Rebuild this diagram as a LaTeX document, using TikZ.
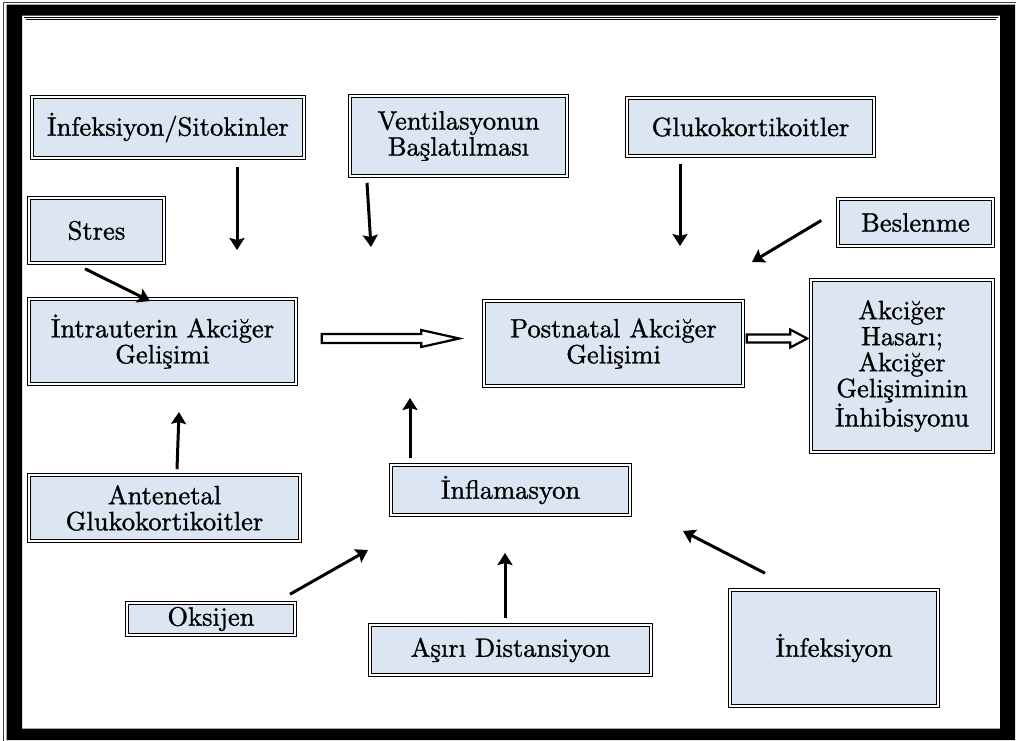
\documentclass[tikz,border=0pt]{standalone}
\usepackage{fontspec}
\usetikzlibrary{arrows.meta,calc}

\newfontfamily\kutufont{lmroman10-regular}[Extension=.otf, RawFeature={embolden=1.1}]
\definecolor{kutumavi}{RGB}{220,230,242}

\tikzset{
  kutu/.style={draw, double, double distance=1.4pt, line width=1.6pt, fill=kutumavi,
    align=center, inner sep=1pt, font=\kutufont\fontsize{26.5}{26}\selectfont},
  ok/.style={line width=3pt, -{Stealth[length=12pt,width=15pt,inset=2pt]}},
  bosok/.style={line width=2.2pt, fill=white, line join=miter}
}

\begin{document}
\begin{tikzpicture}[x=1pt,y=1pt,yscale=-1,xscale=1]
\useasboundingbox (0,0) rectangle (1016,740);

%frame
\draw [line width=1pt, black!75] (3,2) rectangle (1019,744);
\fill [black, even odd rule] (6.5,4.5) rectangle (1015,740) (22,15.5) rectangle (1000,728.5);
\draw [double, double distance=1.2pt, line width=0.8pt] (25,18.5) rectangle (997,726);

%top row
\node [kutu, minimum width=272, minimum height=61] (inf1) at (168,127.5) {İnfeksiyon/Sitokinler};
\node [kutu, minimum width=217, minimum height=80] (vent) at (458.5,136) {Ventilasyonun\\Başlatılması};
\node [kutu, minimum width=247, minimum height=58] (gluk) at (750.5,127) {Glukokortikoitler};
\node [kutu, minimum width=135, minimum height=65] (stres) at (96.5,230.5) {Stres};
\node [kutu, minimum width=155, minimum height=47] (besl) at (915.5,222.5) {Beslenme};

%middle row
\node [kutu, minimum width=267, minimum height=85] (intra) at (162.5,341.5) {İntrauterin Akciğer\\Gelişimi};
\node [kutu, minimum width=259, minimum height=85] (post) at (613.5,343.5) {Postnatal Akciğer\\Gelişimi};
\node [kutu, minimum width=182, minimum height=172] (hasar) at (902,366) {Akciğer\\Hasarı;\\Akciğer\\Gelişiminin\\İnhibisyonu};

%bottom rows
\node [kutu, minimum width=271, minimum height=66] (ante) at (164.5,508) {Antenetal\\Glukokortikoitler};
\node [kutu, minimum width=239, minimum height=50] (infl) at (510.5,490) {İnflamasyon};
\node [kutu, minimum width=281, minimum height=50] (asiri) at (510.5,650) {Aşırı Distansiyon};
\node [kutu, minimum width=168, minimum height=32, inner sep=0pt] (oksi) at (211,619) {Oksijen};
\node [kutu, minimum width=208, minimum height=116] (inf2) at (834,648) {İnfeksiyon};

%free arrow ends
\coordinate (u1) at (237,250);
\coordinate (u2) at (371,247);
\coordinate (u3) at (680,246);
\coordinate (u4) at (752,262);
\coordinate (u5) at (150,301);
\coordinate (u6) at (179,412);
\coordinate (u7) at (410,398);
\coordinate (u8) at (368,550);
\coordinate (u9) at (505,553);
\coordinate (u10) at (683,531);

%arrows
\draw [ok] ($(inf1.south)+(69,8)$) -- (u1);
\draw [ok] ($(vent.south)+(-91.5,6)$) -- (u2);
\draw [ok] ($(gluk.south)+(-70.5,7)$) -- (u3);
\draw [ok] ($(besl.west)+(-16,-2)$) -- (u4);
\draw [ok] ($(stres.south)+(-11.5,5)$) -- (u5);
\draw [ok] ($(ante.north)+(12.5,-5)$) -- (u6);
\draw [ok] ($(infl.north)+(-100.5,-6)$) -- (u7);
\draw [ok] ($(oksi.north)+(79,-8)$) -- (u8);
\draw [ok] ($(asiri.north)+(-5.5,-6)$) -- (u9);
\draw [ok] ($(inf2.north)+(-69,-16)$) -- (u10);

%hollow arrows
\coordinate (h1s) at ($(intra.east)+(25,-3)$);
\coordinate (h1e) at ($(h1s -| post.west)+(-24,0)$);
\draw [bosok] ($(h1s)+(0,-4.5)$) -- ($(h1e)+(-38,-4.5)$) -- ($(h1e)+(-38,-8.5)$) -- (h1e)
  -- ($(h1e)+(-38,8.5)$) -- ($(h1e)+(-38,4.5)$) -- ($(h1s)+(0,4.5)$) -- cycle;
\coordinate (h2s) at ($(post.east)+(3,-5)$);
\coordinate (h2e) at ($(h2s -| hasar.west)+(-3,0)$);
\draw [bosok] ($(h2s)+(0,-4)$) -- ($(h2e)+(-17,-4)$) -- ($(h2e)+(-17,-9)$) -- (h2e)
  -- ($(h2e)+(-17,9)$) -- ($(h2e)+(-17,4)$) -- ($(h2s)+(0,4)$) -- cycle;

\end{tikzpicture}
\end{document}
